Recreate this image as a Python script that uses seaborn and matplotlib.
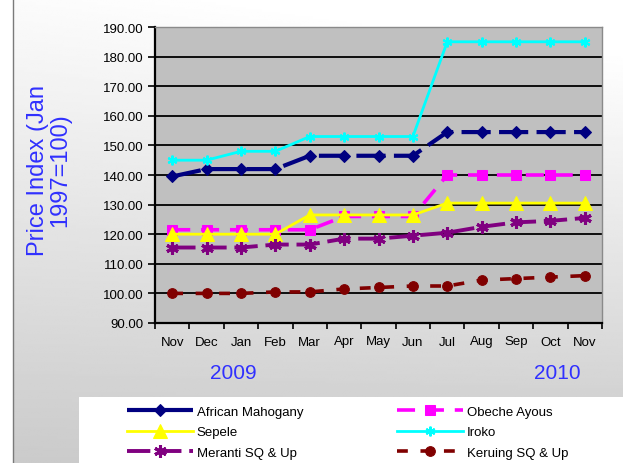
import numpy as np
import pandas as pd
import matplotlib
matplotlib.use("Agg")
import matplotlib.pyplot as plt
from matplotlib.patches import Rectangle
from matplotlib.lines import Line2D
from matplotlib.ticker import FormatStrFormatter, MultipleLocator
import seaborn as sns

# ---- data -------------------------------------------------------------
months = ["Nov", "Dec", "Jan", "Feb", "Mar", "Apr", "May",
          "Jun", "Jul", "Aug", "Sep", "Oct", "Nov"]
african_mahogany = [139.5, 142, 142, 142, 146.5, 146.5, 146.5, 146.5,
                    154.5, 154.5, 154.5, 154.5, 154.5]
obeche_ayous = [121.5, 121.5, 121.5, 121.5, 121.5, 126, 126, 126,
                140, 140, 140, 140, 140]
sepele = [120, 120, 120, 120, 126.5, 126.5, 126.5, 126.5,
          130.5, 130.5, 130.5, 130.5, 130.5]
iroko = [145, 145, 148, 148, 153, 153, 153, 153, 185, 185, 185, 185, 185]
meranti = [115.5, 115.5, 115.5, 116.5, 116.5, 118.5, 118.5, 119.5,
           120.5, 122.5, 124, 124.5, 125.5]
keruing = [100, 100, 100, 100.5, 100.5, 101.5, 102, 102.5,
           102.5, 104.5, 105, 105.5, 106]
year_labels = ["2009", "2010"]
y_label = "Price Index (Jan\n1997=100)"

plt.rcParams["font.family"] = ["Liberation Sans", "DejaVu Sans"]

W, H = 623, 464
fig = plt.figure(figsize=(W / 100, H / 100), dpi=100)
fig.patch.set_facecolor("white")

# ---- gradient backdrop -----------------------------------------------
bg = fig.add_axes([13 / W, 0, 1 - 13 / W, 1], zorder=-10)
yy, xx = np.mgrid[0:1:200j, 0:1:200j]
shade = 0.985 - 0.19 * yy + 0.04 * xx * (1 - yy)
shade = np.clip(shade, 0, 1)
bg.imshow(shade, cmap="gray", vmin=0, vmax=1, extent=[0, 1, 1, 0],
          aspect="auto", interpolation="bilinear")
bg.set_xlim(0, 1)
bg.set_ylim(1, 0)
bg.axis("off")
fig.add_artist(Line2D([13 / W, 13 / W], [0, 1], transform=fig.transFigure,
                      color="#7a7a7a", lw=1.0, zorder=-5))
# legend panel
fig.add_artist(Rectangle((79 / W, 0), 1 - 79 / W, 1 - 398 / H,
                         transform=fig.transFigure, facecolor="white",
                         edgecolor="none", zorder=-4))

# ---- plot area --------------------------------------------------------
ax = fig.add_axes([155 / W, 1 - 324 / H, (602 - 155) / W, (324 - 28) / H])
ax.set_facecolor("#c0c0c0")

x = np.arange(len(months))
series = [
    ("African Mahogany", african_mahogany, dict(color="#000080", marker="D", markersize=6,
                                                 linewidth=3.0, linestyle=(0, (7, 2)))),
    ("Obeche Ayous", obeche_ayous, dict(color="#ff00ff", marker="s", markersize=6.5,
                                        linewidth=2.6, linestyle=(0, (5, 3)))),
    ("Sepele", sepele, dict(color="#ffff00", marker="^", markersize=9.5,
                            linewidth=2.0, linestyle="-")),
    ("Iroko", iroko, dict(color="#00ffff", marker=(6, 2, 0), markersize=7,
                          markeredgewidth=1.5, linewidth=2.0, linestyle="-")),
    ("Meranti SQ & Up", meranti, dict(color="#800080", marker=(6, 2, 0), markersize=9,
                                      markeredgewidth=2.2, linewidth=2.8,
                                      linestyle=(0, (6, 2)))),
    ("Keruing SQ & Up", keruing, dict(color="#800000", marker="o", markersize=7,
                                      linewidth=2.6, linestyle=(0, (3, 3.5)))),
]

handles = {}
for name, vals, kw in series:
    df = pd.DataFrame({"pos": x, "value": vals})
    style = dict(kw)
    style.setdefault("markeredgecolor", style["color"])
    sns.lineplot(data=df, x="pos", y="value", ax=ax, label=name,
                 markerfacecolor=style["color"], **style)
    handles[name] = ax.get_lines()[-1]
ax.get_legend().remove()

ax.set_xlim(-0.5, len(months) - 0.5)
ax.set_ylim(90, 190)
ax.yaxis.set_major_locator(MultipleLocator(10))
ax.yaxis.set_major_formatter(FormatStrFormatter("%.2f"))
ax.set_xticks(x)
ax.set_xticklabels(months)
ax.set_xticks(np.arange(-0.5, len(months)), minor=True)
ax.tick_params(axis="x", which="major", length=0, pad=9, labelsize=9.5)
ax.tick_params(axis="x", which="minor", length=4, width=1.2, color="black")
ax.tick_params(axis="y", which="major", length=5, width=1.2, labelsize=9.5, pad=3)
ax.set_xlabel("")
ax.set_ylabel("")
ax.grid(axis="y", color="black", linewidth=1.3)
ax.set_axisbelow(True)
for side in ("left", "bottom"):
    ax.spines[side].set_color("black")
    ax.spines[side].set_linewidth(1.6)
for side in ("top", "right"):
    ax.spines[side].set_color("#8a8a8a")
    ax.spines[side].set_linewidth(1.0)

# ---- texts ------------------------------------------------------------
blue = "#3030ff"
fig.text(49 / W, 1 - 170 / H, y_label, rotation=90, ha="center", va="center",
         color=blue, fontsize=17, linespacing=1.05)
fig.text(233 / W, 1 - 374 / H, year_labels[0], ha="center", va="center",
         color=blue, fontsize=15)
fig.text(557 / W, 1 - 374 / H, year_labels[1], ha="center", va="center",
         color=blue, fontsize=15)

# ---- legend -----------------------------------------------------------
left_names = ["African Mahogany", "Sepele", "Meranti SQ & Up"]
right_names = ["Obeche Ayous", "Iroko", "Keruing SQ & Up"]
common = dict(frameon=False, fontsize=9.5, handlelength=5.0, handletextpad=0.3,
              labelspacing=0.62, numpoints=1, borderpad=0, loc="upper left")
fig.legend([handles[n] for n in left_names], left_names,
           bbox_to_anchor=(120 / W, 1 - 400 / H), **common)
fig.legend([handles[n] for n in right_names], right_names,
           bbox_to_anchor=(390 / W, 1 - 400 / H), **common)

fig.savefig("out.png", dpi=100)
